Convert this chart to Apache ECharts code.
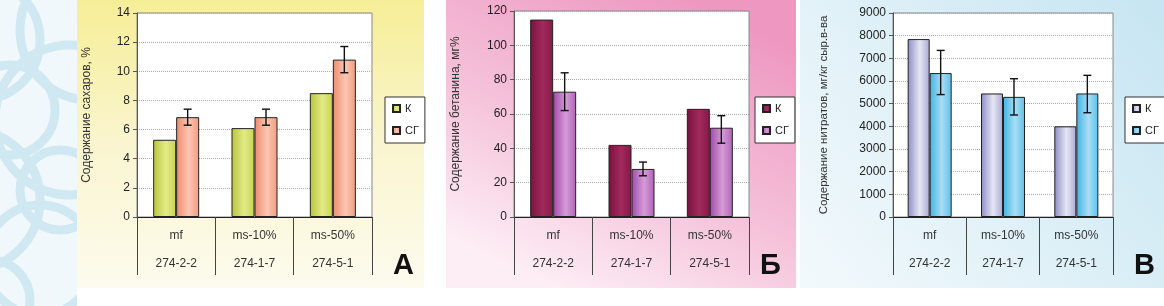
<!DOCTYPE html>
<html>
<head>
<meta charset="utf-8">
<script src="https://cdn.jsdelivr.net/npm/echarts@6/dist/echarts.min.js"></script>
<style>
  html, body { margin: 0; padding: 0; background: #fff; }
  #main { width: 1164px; height: 306px; }
</style>
</head>
<body>
<div id="main"></div>
<script>
// категории (две строки подписи)
var categories = ['mf\n274-2-2', 'ms-10%\n274-1-7', 'ms-50%\n274-5-1'];

// А - сахара, %
var sugarK = [5.3, 6.1, 8.5];
var sugarSG = [6.85, 6.85, 10.8];
var sugarLow = [6.3, 6.3, 9.9];
var sugarHigh = [7.4, 7.4, 11.7];

// Б - бетанин, мг%
var betK = [115, 42, 63];
var betSG = [73, 28, 52];
var betLow = [62, 24, 43];
var betHigh = [84, 32, 59];

// В - нитраты, мг/кг
var nitK = [7850, 5450, 4000];
var nitSG = [6350, 5300, 5450];
var nitLow = [5400, 4500, 4600];
var nitHigh = [7350, 6100, 6250];

var FONT = '"Liberation Sans", Arial, sans-serif';

function hGrad(c0, c1, c2) {
    return new echarts.graphic.LinearGradient(0, 0, 1, 0, [
        {offset: 0, color: c0}, {offset: 0.55, color: c1}, {offset: 1, color: c2}
    ]);
}

function errData(lo, hi) {
    return lo.map(function (v, i) { return [i, v, hi[i]]; });
}

function errItem(bw) {
    return function (params, api) {
        var lo = api.coord([api.value(0), api.value(1)]);
        var hi = api.coord([api.value(0), api.value(2)]);
        var x = lo[0] + bw / 2;
        var c = 4;
        var st = {stroke: '#111', lineWidth: 1.4};
        return {type: 'group', children: [
            {type: 'line', shape: {x1: x, y1: lo[1], x2: x, y2: hi[1]}, style: st},
            {type: 'line', shape: {x1: x - c, y1: hi[1], x2: x + c, y2: hi[1]}, style: st},
            {type: 'line', shape: {x1: x - c, y1: lo[1], x2: x + c, y2: lo[1]}, style: st}
        ]};
    };
}

function xAx(gi) {
    return {
        type: 'category', gridIndex: gi, data: categories,
        axisLine: {lineStyle: {color: '#222', width: 1}},
        axisTick: {show: true, length: 58, lineStyle: {color: '#444'}},
        axisLabel: {interval: 0, margin: 5, lineHeight: 28, fontSize: 12, color: '#333', fontFamily: FONT}
    };
}

function yAx(gi, max, step, name, gap, fs) {
    return {
        type: 'value', gridIndex: gi, min: 0, max: max, interval: step,
        name: name, nameLocation: 'middle', nameGap: gap,
        nameTextStyle: {fontSize: fs, color: '#333', fontFamily: FONT},
        axisLine: {show: true, lineStyle: {color: '#555'}},
        axisTick: {show: true, length: 4, lineStyle: {color: '#555'}},
        axisLabel: {fontSize: 12, color: '#222', margin: 7, fontFamily: FONT,
            formatter: function (v) { return String(v); }},
        splitLine: {lineStyle: {color: '#aaa', type: 'dotted'}}
    };
}

function legend(left, panel) {
    return {
        data: [panel + '|К', panel + '|СГ'],
        orient: 'vertical', left: left, top: 97,
        padding: [6, 6, 7, 7], itemGap: 11,
        itemWidth: 7, itemHeight: 7, icon: 'rect',
        borderColor: '#333', borderWidth: 1, backgroundColor: '#fff',
        textStyle: {fontSize: 11, color: '#222', fontFamily: FONT},
        formatter: function (n) { return n.split('|')[1]; },
        selectedMode: false
    };
}

function barSeries(name, gi, data, color, bw) {
    return {
        name: name, type: 'bar', xAxisIndex: gi, yAxisIndex: gi,
        data: data, barWidth: bw, barGap: '0%',
        itemStyle: {color: color, borderColor: '#222', borderWidth: 1},
        emphasis: {disabled: true}
    };
}

function errSeries(gi, lo, hi, bw) {
    return {
        type: 'custom', xAxisIndex: gi, yAxisIndex: gi,
        data: errData(lo, hi), renderItem: errItem(bw),
        encode: {x: 0, y: [1, 2]}, z: 5
    };
}

// фоновые завитки слева
var swirls = [
    [-20, 40, 60], [70, 120, 75], [-30, 200, 70], [40, 260, 55],
    [10, 110, 45], [90, 30, 70], [-10, 300, 40], [60, 190, 40]
].map(function (s) {
    return {
        type: 'circle', z: -9, shape: {cx: s[0], cy: s[1], r: s[2]},
        style: {fill: 'none', stroke: '#d0e8f2', lineWidth: 9}
    };
});

var bgs = [
    {type: 'rect', z: -10, shape: {x: 0, y: 0, width: 80, height: 306}, style: {fill: '#f1f8fb'}}
].concat(swirls).concat([
    {type: 'rect', z: -8, shape: {x: 77, y: 0, width: 1087, height: 306}, style: {fill: '#fff'}},
    {type: 'rect', z: -7, shape: {x: 77, y: 0, width: 347, height: 288},
        style: {fill: new echarts.graphic.LinearGradient(0, 0, 0, 1, [
            {offset: 0, color: '#f6ee96'}, {offset: 0.5, color: '#faf5cf'}, {offset: 1, color: '#fdfbee'}])}},
    {type: 'rect', z: -7, shape: {x: 446, y: 0, width: 350, height: 288},
        style: {fill: new echarts.graphic.LinearGradient(0.7, 0, 0.3, 1, [
            {offset: 0, color: '#ee98c1'}, {offset: 0.55, color: '#f5c2da'}, {offset: 1, color: '#fdeef5'}])}},
    {type: 'rect', z: -7, shape: {x: 800, y: 0, width: 364, height: 288},
        style: {fill: new echarts.graphic.LinearGradient(1, 0, 0, 1, [
            {offset: 0, color: '#c6e5f2'}, {offset: 0.6, color: '#e2f2f8'}, {offset: 1, color: '#f3f9fc'}])}},
    {type: 'text', z: 100, x: 393, y: 251, style: {text: 'А', font: 'bold 29px ' + FONT, fill: '#111'}},
    {type: 'text', z: 100, x: 760, y: 251, style: {text: 'Б', font: 'bold 29px ' + FONT, fill: '#111'}},
    {type: 'text', z: 100, x: 1134, y: 251, style: {text: 'В', font: 'bold 29px ' + FONT, fill: '#111'}}
]);

var myChart = echarts.init(document.getElementById('main'));
myChart.setOption({
    animation: false,
    textStyle: {fontFamily: FONT},
    graphic: bgs,
    grid: [
        {left: 137, right: 792, top: 13, bottom: 89, show: true, backgroundColor: '#fff', borderColor: '#888'},
        {left: 514, right: 415, top: 11, bottom: 89, show: true, backgroundColor: '#fff', borderColor: '#888'},
        {left: 893, right: 51, top: 13, bottom: 89, show: true, backgroundColor: '#fff', borderColor: '#888'}
    ],
    xAxis: [xAx(0), xAx(1), xAx(2)],
    yAxis: [
        yAx(0, 14, 2, 'Содержание сахаров, %', 44, 12),
        yAx(1, 120, 20, 'Содержание бетанина, мг%', 52, 12),
        yAx(2, 9000, 1000, 'Содержание нитратов, мг/кг сыр.в-ва', 63, 11.5)
    ],
    legend: [legend(385, 'А'), legend(755, 'Б'), legend(1125, 'В')],
    series: [
        barSeries('А|К', 0, sugarK, hGrad('#b9c43c', '#e2ea86', '#c9d350'), 23),
        barSeries('А|СГ', 0, sugarSG, hGrad('#ee8a6c', '#fbc6b2', '#f29c80'), 23),
        errSeries(0, sugarLow, sugarHigh, 23),
        barSeries('Б|К', 1, betK, hGrad('#7a1240', '#a12a5c', '#861848'), 23),
        barSeries('Б|СГ', 1, betSG, hGrad('#a04aa8', '#d59bd8', '#b062b6'), 23),
        errSeries(1, betLow, betHigh, 23),
        barSeries('В|К', 2, nitK, hGrad('#8d8cc4', '#e6e6f4', '#a9a8d4'), 22),
        barSeries('В|СГ', 2, nitSG, hGrad('#3fb3e4', '#a8def4', '#5cc0ea'), 22),
        errSeries(2, nitLow, nitHigh, 22)
    ]
});
</script>
</body>
</html>
